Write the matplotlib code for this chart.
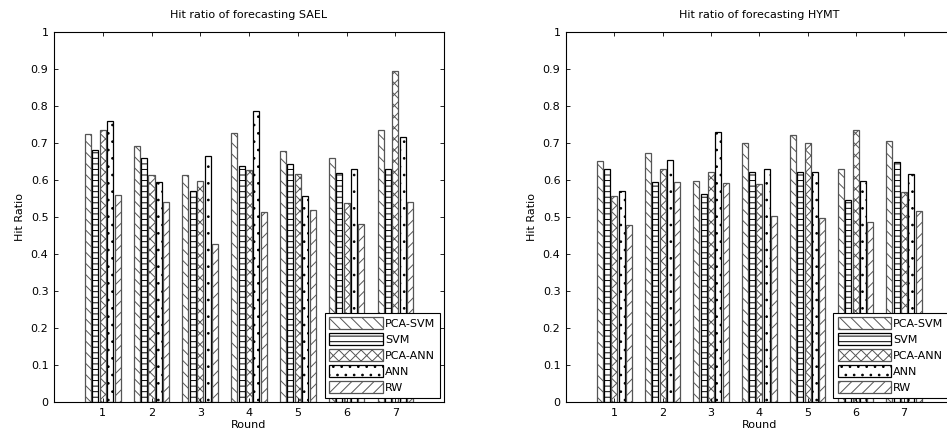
import matplotlib
matplotlib.use("Agg")
import matplotlib.pyplot as plt
import numpy as np

fontsize = 8
plt.rcParams.update({
    'font.family': 'DejaVu Sans',
    'font.size': fontsize,
    'hatch.linewidth': 0.7,
    'axes.linewidth': 0.8,
})

# data
rounds = [1, 2, 3, 4, 5, 6, 7]
methods = ["PCA-SVM", "SVM", "PCA-ANN", "ANN", "RW"]

sael_pca_svm = [0.725, 0.691, 0.613, 0.728, 0.679, 0.660, 0.734]
sael_svm     = [0.682, 0.660, 0.571, 0.638, 0.643, 0.620, 0.631]
sael_pca_ann = [0.734, 0.613, 0.597, 0.628, 0.617, 0.537, 0.896]
sael_ann     = [0.760, 0.594, 0.665, 0.786, 0.558, 0.629, 0.717]
sael_rw      = [0.560, 0.540, 0.428, 0.513, 0.520, 0.480, 0.541]

hymt_pca_svm = [0.651, 0.674, 0.597, 0.700, 0.723, 0.631, 0.705]
hymt_svm     = [0.629, 0.596, 0.562, 0.621, 0.623, 0.545, 0.649]
hymt_pca_ann = [0.557, 0.631, 0.621, 0.588, 0.700, 0.735, 0.569]
hymt_ann     = [0.570, 0.655, 0.729, 0.629, 0.621, 0.597, 0.617]
hymt_rw      = [0.478, 0.596, 0.592, 0.504, 0.498, 0.486, 0.515]

hatches = ['\\\\\\', '---', 'xxx', '..', '///']
edges = ['#555555', 'black', '#555555', 'black', '#555555']


def plotRounds(ax, series, title):
    x = np.array(rounds)
    step = 0.152
    width = 0.124
    for i, vals in enumerate(series):
        ax.bar(x + (i - 2) * step, vals, width=width, color='white',
               edgecolor=edges[i], hatch=hatches[i], linewidth=0.9,
               label=methods[i])
    ax.set_xlim(0, 8)
    ax.set_ylim(0, 1)
    ax.set_xticks(rounds)
    ax.set_yticks(np.arange(0, 1.01, 0.1))
    ax.set_yticklabels(["0", "0.1", "0.2", "0.3", "0.4", "0.5", "0.6",
                        "0.7", "0.8", "0.9", "1"])
    ax.tick_params(direction='in', top=True, right=True, length=3,
                   width=0.6, labelsize=fontsize, pad=4)
    ax.set_xlabel("Round", fontsize=fontsize, labelpad=2)
    ax.set_ylabel("Hit Ratio", fontsize=fontsize, labelpad=4)
    ax.set_title(title, fontsize=fontsize, pad=10)
    leg = ax.legend(loc='lower right', fontsize=fontsize, fancybox=False,
                    framealpha=1, edgecolor='black', handlelength=4.8,
                    handleheight=1.3, labelspacing=0.35, handletextpad=0.2,
                    borderpad=0.4, borderaxespad=0.4)
    leg.get_frame().set_linewidth(0.8)


fig = plt.figure(figsize=(9.47, 4.43), dpi=100)
ax1 = fig.add_axes([0.057, 0.0926, 0.412, 0.835])  # x,y, lenght, height
ax2 = fig.add_axes([0.5977, 0.0926, 0.408, 0.835])

plotRounds(ax1, [sael_pca_svm, sael_svm, sael_pca_ann, sael_ann, sael_rw],
           "Hit ratio of forecasting SAEL")
plotRounds(ax2, [hymt_pca_svm, hymt_svm, hymt_pca_ann, hymt_ann, hymt_rw],
           "Hit ratio of forecasting HYMT")

fig.savefig("out.png", dpi=100)
